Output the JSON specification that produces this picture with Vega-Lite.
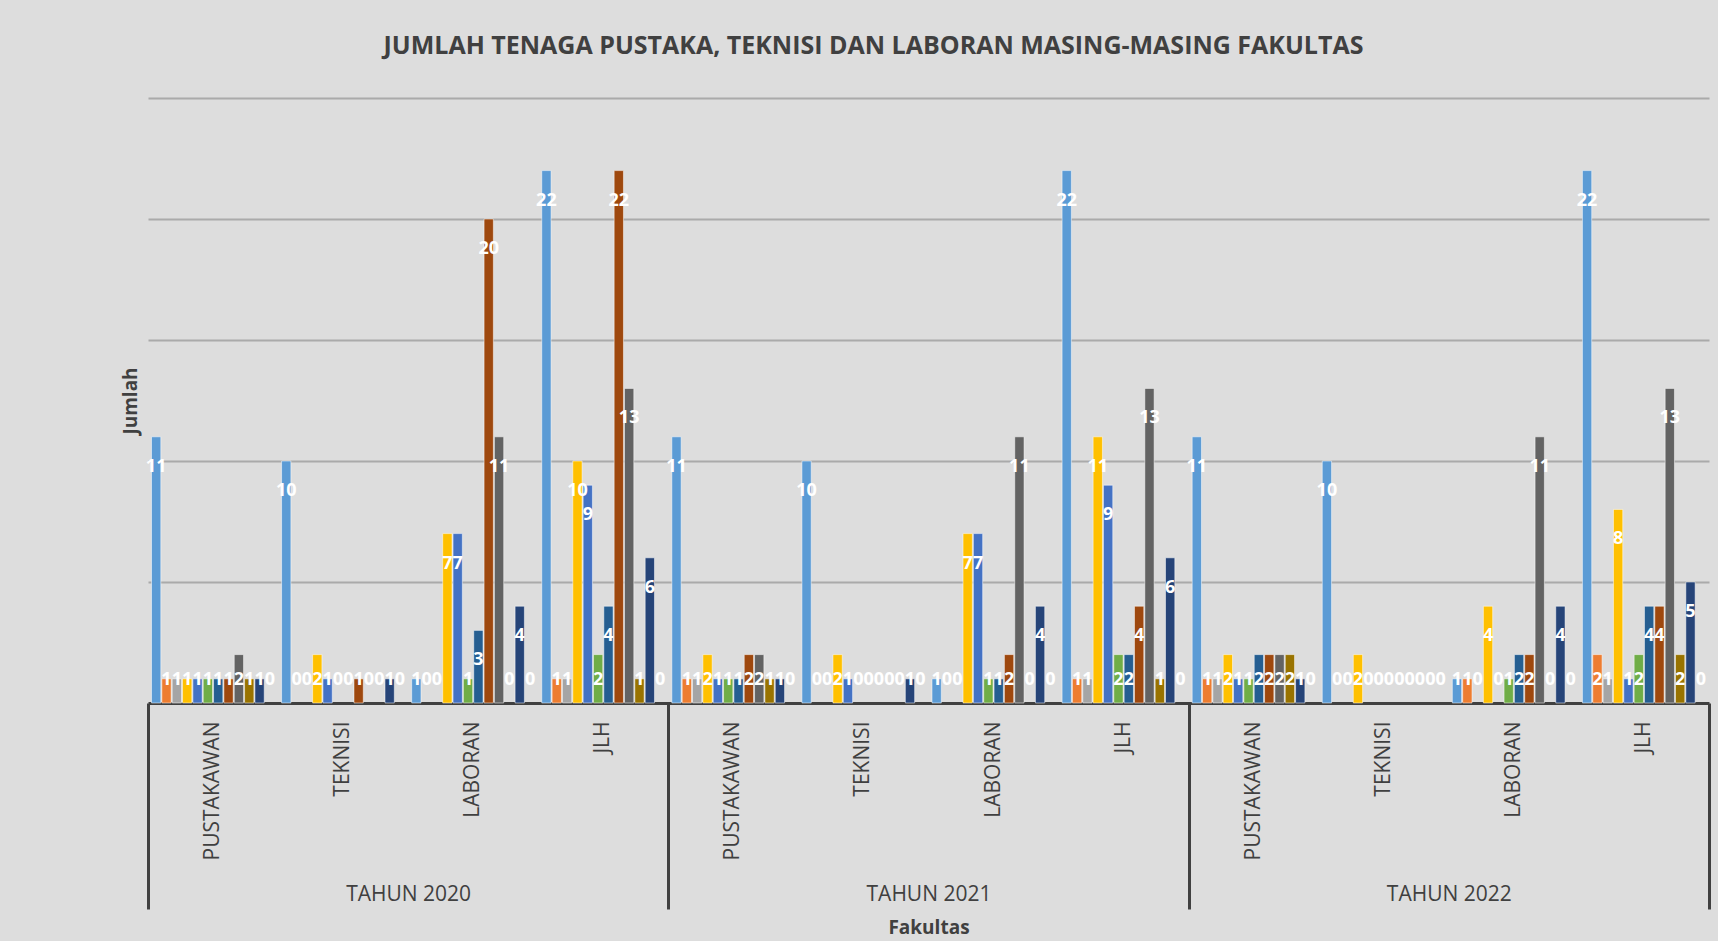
{
  "$schema": "https://vega.github.io/schema/vega-lite/v6.json",
  "width": 1561,
  "height": 605,
  "autosize": {"type": "none"},
  "padding": {"left": 148, "top": 98, "right": 9, "bottom": 238},
  "background": "#dddddd",
  "config": {"view": {"stroke": null}, "font": "Open Sans"},
  "title": {
    "text": "JUMLAH TENAGA PUSTAKA, TEKNISI DAN LABORAN MASING-MASING FAKULTAS",
    "fontSize": 25, "fontWeight": "bold", "color": "#404040", "font": "Open Sans",
    "anchor": "middle", "dx": -55, "offset": 39
  },
  "data": {"values": [
    {"tahun": "TAHUN 2020", "grup": "2020|PUSTAKAWAN", "F1": 11, "F2": 1, "F3": 1, "F4": 1, "F5": 1, "F6": 1, "F7": 1, "F8": 1, "F9": 2, "F10": 1, "F11": 1, "F12": 0},
    {"tahun": "TAHUN 2020", "grup": "2020|TEKNISI", "F1": 10, "F2": 0, "F3": 0, "F4": 2, "F5": 1, "F6": 0, "F7": 0, "F8": 1, "F9": 0, "F10": 0, "F11": 1, "F12": 0},
    {"tahun": "TAHUN 2020", "grup": "2020|LABORAN", "F1": 1, "F2": 0, "F3": 0, "F4": 7, "F5": 7, "F6": 1, "F7": 3, "F8": 20, "F9": 11, "F10": 0, "F11": 4, "F12": 0},
    {"tahun": "TAHUN 2020", "grup": "2020|JLH", "F1": 22, "F2": 1, "F3": 1, "F4": 10, "F5": 9, "F6": 2, "F7": 4, "F8": 22, "F9": 13, "F10": 1, "F11": 6, "F12": 0},
    {"tahun": "TAHUN 2021", "grup": "2021|PUSTAKAWAN", "F1": 11, "F2": 1, "F3": 1, "F4": 2, "F5": 1, "F6": 1, "F7": 1, "F8": 2, "F9": 2, "F10": 1, "F11": 1, "F12": 0},
    {"tahun": "TAHUN 2021", "grup": "2021|TEKNISI", "F1": 10, "F2": 0, "F3": 0, "F4": 2, "F5": 1, "F6": 0, "F7": 0, "F8": 0, "F9": 0, "F10": 0, "F11": 1, "F12": 0},
    {"tahun": "TAHUN 2021", "grup": "2021|LABORAN", "F1": 1, "F2": 0, "F3": 0, "F4": 7, "F5": 7, "F6": 1, "F7": 1, "F8": 2, "F9": 11, "F10": 0, "F11": 4, "F12": 0},
    {"tahun": "TAHUN 2021", "grup": "2021|JLH", "F1": 22, "F2": 1, "F3": 1, "F4": 11, "F5": 9, "F6": 2, "F7": 2, "F8": 4, "F9": 13, "F10": 1, "F11": 6, "F12": 0},
    {"tahun": "TAHUN 2022", "grup": "2022|PUSTAKAWAN", "F1": 11, "F2": 1, "F3": 1, "F4": 2, "F5": 1, "F6": 1, "F7": 2, "F8": 2, "F9": 2, "F10": 2, "F11": 1, "F12": 0},
    {"tahun": "TAHUN 2022", "grup": "2022|TEKNISI", "F1": 10, "F2": 0, "F3": 0, "F4": 2, "F5": 0, "F6": 0, "F7": 0, "F8": 0, "F9": 0, "F10": 0, "F11": 0, "F12": 0},
    {"tahun": "TAHUN 2022", "grup": "2022|LABORAN", "F1": 1, "F2": 1, "F3": 0, "F4": 4, "F5": 0, "F6": 1, "F7": 2, "F8": 2, "F9": 11, "F10": 0, "F11": 4, "F12": 0},
    {"tahun": "TAHUN 2022", "grup": "2022|JLH", "F1": 22, "F2": 2, "F3": 1, "F4": 8, "F5": 1, "F6": 2, "F7": 4, "F8": 4, "F9": 13, "F10": 2, "F11": 5, "F12": 0}
  ]},
  "layer": [
    {
      "transform": [{"fold": ["F1", "F2", "F3", "F4", "F5", "F6", "F7", "F8", "F9", "F10", "F11", "F12"], "as": ["fak", "jumlah"]}],
      "encoding": {
        "x": {
          "field": "grup", "type": "nominal",
          "scale": {
            "domain": ["2020|PUSTAKAWAN", "2020|TEKNISI", "2020|LABORAN", "2020|JLH", "2021|PUSTAKAWAN", "2021|TEKNISI", "2021|LABORAN", "2021|JLH", "2022|PUSTAKAWAN", "2022|TEKNISI", "2022|LABORAN", "2022|JLH"],
            "paddingInner": 0.046, "paddingOuter": 0.023
          },
          "axis": {
            "orient": "bottom", "title": null, "labelExpr": "split(datum.label, '|')[1]",
            "labelAngle": 270, "labelFontSize": 21, "labelColor": "#404040", "labelFont": "Open Sans",
            "labelPadding": 18, "ticks": false, "domainColor": "#404040", "domainWidth": 3,
            "grid": false, "labelOverlap": false, "labelBound": false
          }
        },
        "xOffset": {
          "field": "fak", "type": "nominal",
          "scale": {"domain": ["F1", "F2", "F3", "F4", "F5", "F6", "F7", "F8", "F9", "F10", "F11", "F12"], "paddingInner": 0.1, "paddingOuter": 0.05}
        },
        "y": {
          "field": "jumlah", "type": "quantitative",
          "scale": {"domain": [0, 25], "nice": false},
          "axis": {
            "title": "Jumlah", "titleFontSize": 19, "titleFontWeight": "bold", "titleColor": "#404040",
            "titleFont": "Open Sans", "titlePadding": 8, "labels": false, "ticks": false, "domain": false,
            "grid": true, "gridColor": "#aaaaaa", "gridWidth": 2, "values": [5, 10, 15, 20, 25]
          }
        }
      },
      "layer": [
        {
          "transform": [{"filter": "datum.jumlah > 0"}],
          "mark": {"type": "bar", "stroke": "#ffffff", "strokeOpacity": 0.5, "strokeWidth": 1},
          "encoding": {
            "color": {
              "field": "fak", "type": "nominal", "legend": null,
              "scale": {
                "domain": ["F1", "F2", "F3", "F4", "F5", "F6", "F7", "F8", "F9", "F10", "F11", "F12"],
                "range": ["#5B9BD5", "#ED7D31", "#A5A5A5", "#FFC000", "#4472C4", "#70AD47", "#255E91", "#9E480E", "#636363", "#997300", "#264478", "#43682B"]
              }
            }
          }
        },
        {
          "transform": [{"filter": "datum.jumlah >= 3"}],
          "mark": {"type": "text", "color": "#ffffff", "fontWeight": "bold", "fontSize": 18, "font": "Open Sans", "baseline": "middle", "dy": 30},
          "encoding": {"text": {"field": "jumlah", "type": "quantitative"}}
        },
        {
          "transform": [{"filter": "datum.jumlah < 3"}],
          "mark": {"type": "text", "color": "#ffffff", "fontWeight": "bold", "fontSize": 18, "font": "Open Sans", "baseline": "middle", "dy": 1},
          "encoding": {"y": {"datum": 1, "type": "quantitative"}, "text": {"field": "jumlah", "type": "quantitative"}}
        }
      ]
    },
    {
      "mark": {"type": "rect", "opacity": 0},
      "encoding": {
        "x": {
          "field": "tahun", "type": "nominal",
          "scale": {"domain": ["TAHUN 2020", "TAHUN 2021", "TAHUN 2022"], "paddingInner": 0, "paddingOuter": 0},
          "axis": {
            "orient": "bottom", "title": "Fakultas", "titleFontSize": 19, "titleFontWeight": "bold",
            "titleColor": "#404040", "titleFont": "Open Sans", "titlePadding": 15,
            "domain": false, "ticks": true, "tickBand": "extent", "tickSize": 206, "tickWidth": 3,
            "tickColor": "#404040", "labelFontSize": 21, "labelColor": "#404040", "labelFont": "Open Sans",
            "labelPadding": -15, "labelBaseline": "middle", "labelAngle": 0, "grid": false
          }
        }
      }
    }
  ],
  "resolve": {"scale": {"x": "independent"}, "axis": {"x": "independent"}}
}
